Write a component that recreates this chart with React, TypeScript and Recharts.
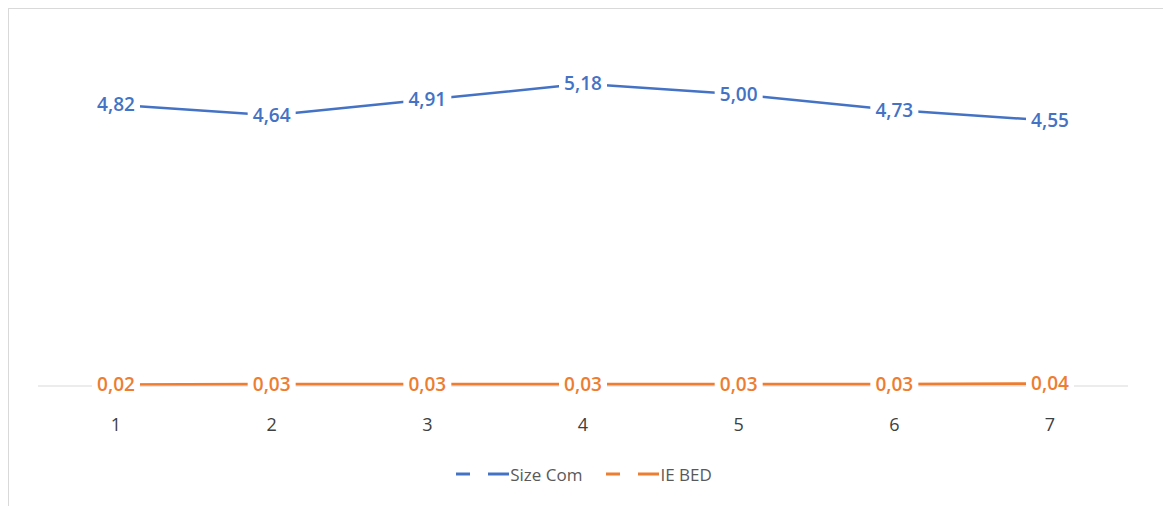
import { LineChart, Line, XAxis, YAxis, Legend, LabelList } from "recharts";

const categories = ["1", "2", "3", "4", "5", "6", "7"];
const sizeCom = [4.82, 4.64, 4.91, 5.18, 5.0, 4.73, 4.55];
const ieBed = [0.02, 0.03, 0.03, 0.03, 0.03, 0.03, 0.04];

const BLUE = "#4472C4";
const ORANGE = "#ED7D31";
const FONT = "'Open Sans', 'Noto Sans', sans-serif";

const data = categories.map((cat, i) => ({
  cat,
  sizeCom: sizeCom[i],
  ieBed: ieBed[i],
}));

const fmt = (v: number) => v.toFixed(2).replace(".", ",");

// value label with a white box so the line stops at the text
const pointLabel = (color: string) => (props: any) => {
  const { x, y, value } = props;
  const text = fmt(Number(value));
  const w = text.length * 11 + 4;
  return (
    <g>
      <rect x={x - w / 2} y={y - 11} width={w} height={22} fill="#fff" />
      <text
        x={x}
        y={y}
        dy="0.35em"
        textAnchor="middle"
        fill={color}
        fontSize={19}
        fontWeight={600}
        fontFamily={FONT}
      >
        {text}
      </text>
    </g>
  );
};

const legendItems = [
  { name: "Size Com", color: BLUE },
  { name: "IE BED", color: ORANGE },
];

function LegendContent() {
  return (
    <div
      style={{
        height: 60,
        paddingTop: 18,
        boxSizing: "border-box",
        display: "flex",
        justifyContent: "center",
        gap: 22,
        fontFamily: FONT,
        fontSize: 17,
        color: "#595959",
      }}
    >
      {legendItems.map((it) => (
        <div key={it.name} style={{ display: "flex", alignItems: "center", height: 20 }}>
          <svg width={56} height={20}>
            <line x1={2} y1={10} x2={16} y2={10} stroke={it.color} strokeWidth={3} />
            <line x1={34} y1={10} x2={55} y2={10} stroke={it.color} strokeWidth={3} />
          </svg>
          <span>{it.name}</span>
        </div>
      ))}
    </div>
  );
}

export default function App() {
  return (
    <div
      style={{
        width: 1161,
        height: 497,
        border: "1px solid #d9d9d9",
        background: "#fff",
      }}
    >
      <LineChart
        width={1161}
        height={497}
        data={data}
        margin={{ top: 27, right: 42, bottom: 0, left: 29 }}
      >
        <XAxis
          dataKey="cat"
          height={60}
          padding={{ left: 78, right: 78 }}
          tickLine={false}
          axisLine={{ stroke: "#d9d9d9" }}
          tickMargin={26}
          tick={{ fill: "#404040", fontSize: 18, fontFamily: FONT }}
        />
        <YAxis hide domain={[0, 6]} />
        <Legend verticalAlign="bottom" height={60} content={<LegendContent />} />
        <Line
          dataKey="sizeCom"
          stroke={BLUE}
          strokeWidth={2.5}
          dot={false}
          isAnimationActive={false}
        >
          <LabelList dataKey="sizeCom" content={pointLabel(BLUE)} />
        </Line>
        <Line
          dataKey="ieBed"
          stroke={ORANGE}
          strokeWidth={3}
          dot={false}
          isAnimationActive={false}
        >
          <LabelList dataKey="ieBed" content={pointLabel(ORANGE)} />
        </Line>
      </LineChart>
    </div>
  );
}
